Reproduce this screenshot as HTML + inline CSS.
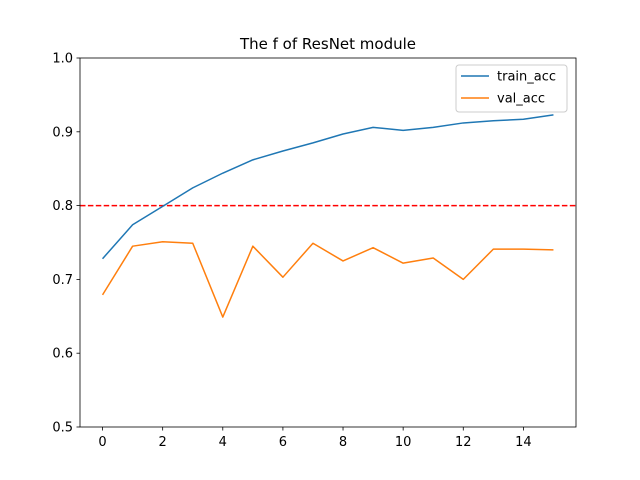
<!DOCTYPE html>
<html><head><meta charset="utf-8"><style>
html,body{margin:0;padding:0;background:#fff;}
svg{display:block;font-family:"DejaVu Sans","Liberation Sans",sans-serif;}
</style></head><body>
<svg id="chart" width="640" height="480" xmlns="http://www.w3.org/2000/svg">
<rect width="640" height="480" fill="#fff"/>
<text x="328" y="49" text-anchor="middle" font-size="15">The f of ResNet module</text>
<g id="plot"></g>
<rect x="80" y="58" width="496" height="369" fill="none" stroke="#000" stroke-width="0.8"/>
<g>
<rect x="456" y="65" width="111" height="47" rx="3" fill="#fff" fill-opacity="0.8" stroke="#ccc" stroke-width="1"/>
<line x1="461" y1="76" x2="489" y2="76" stroke="#1f77b4" stroke-width="1.5"/>
<text x="497" y="80.5" font-size="13">train_acc</text>
<line x1="461" y1="98" x2="489" y2="98" stroke="#ff7f0e" stroke-width="1.5"/>
<text x="497" y="102.5" font-size="13">val_acc</text>
</g>
</svg>
<script>
const epochs = [0,1,2,3,4,5,6,7,8,9,10,11,12,13,14,15];
const trainAcc = [0.728,0.774,0.799,0.824,0.844,0.862,0.874,0.885,0.897,0.906,0.902,0.906,0.912,0.915,0.917,0.923];
const valAcc = [0.679,0.745,0.751,0.749,0.649,0.745,0.703,0.749,0.725,0.743,0.722,0.729,0.700,0.741,0.741,0.740];
const xTicks = [0,2,4,6,8,10,12,14];
const yTicks = [0.5,0.6,0.7,0.8,0.9,1.0];
const threshold = 0.8;

const L=80,R=576,T=58,B=427;
const xMin=-0.75,xMax=15.75,yMin=0.5,yMax=1.0;
const xs=v=>L+(v-xMin)/(xMax-xMin)*(R-L);
const ys=v=>B-(v-yMin)/(yMax-yMin)*(B-T);
const NS="http://www.w3.org/2000/svg";
const g=document.getElementById('plot');
function mk(tag,attrs){const e=document.createElementNS(NS,tag);for(const k in attrs)e.setAttribute(k,attrs[k]);g.appendChild(e);return e;}

xTicks.forEach(t=>{
  const l=mk('line',{x1:xs(t),x2:xs(t),y1:B,y2:B+3.5,stroke:'#000','stroke-width':0.8});
  
  
  const tx=mk('text',{x:xs(t),y:B+19,'text-anchor':'middle','font-size':13});
  tx.textContent=t;
  
  
});
yTicks.forEach(t=>{
  const l=mk('line',{x1:L-3.5,x2:L,y1:ys(t),y2:ys(t),stroke:'#000','stroke-width':0.8});
  
  
  const tx=mk('text',{x:L-7,y:ys(t)+4.5,'text-anchor':'end','font-size':13});
  tx.textContent=t.toFixed(1);
  
  
});
const th=mk('line',{x1:L,x2:R,y1:ys(threshold),y2:ys(threshold),stroke:'#ff0000','stroke-width':1.5,'stroke-dasharray':'5.5,2.4'});


function series(vals,color,name){
  const p=mk('polyline',{points:vals.map((v,i)=>xs(epochs[i])+','+ys(v)).join(' '),fill:'none',stroke:color,'stroke-width':1.5,'stroke-linejoin':'round'});
  
  
}
series(trainAcc,'#1f77b4','train-acc-line');
series(valAcc,'#ff7f0e','val-acc-line');
</script>
</body></html>
